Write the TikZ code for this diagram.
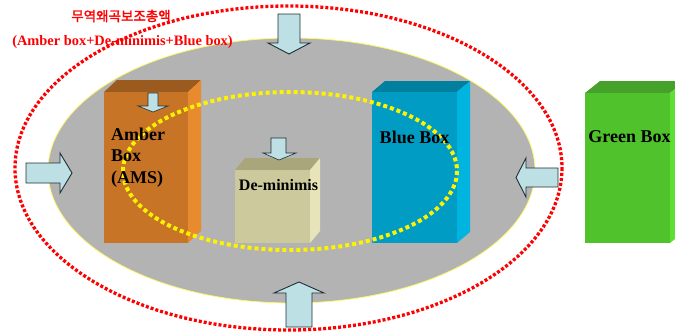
\documentclass[tikz,border=0pt]{standalone}
\usepackage{fontspec}
\setmainfont{Liberation Serif}
\newfontfamily\korfont{Noto Sans CJK KR}[AutoFakeBold=2]
\definecolor{ambF}{HTML}{C87427}
\definecolor{ambT}{HTML}{9B5A1E}
\definecolor{ambS}{HTML}{E88A2E}
\definecolor{bluF}{HTML}{009CC4}
\definecolor{bluT}{HTML}{007F9E}
\definecolor{bluS}{HTML}{00B4E0}
\definecolor{grnF}{HTML}{50C22C}
\definecolor{grnT}{HTML}{46A12A}
\definecolor{grnS}{HTML}{5DDF34}
\definecolor{demF}{HTML}{CCCA9C}
\definecolor{demT}{HTML}{A9A67B}
\definecolor{demS}{HTML}{E6E4B8}
\definecolor{arrF}{HTML}{BDE0E5}
\definecolor{arrD}{HTML}{1F2F33}
\definecolor{grayfield}{HTML}{B3B3B3}
\newcommand\mybox[9]{%
  \fill[#8] (#1,#2) -- (#1+#5,#2-#6) -- (#3+#5,#2-#6) -- (#3,#2) -- cycle;
  \fill[#9] (#3,#2) -- (#3+#5,#2-#6) -- (#3+#5,#4-#6) -- (#3,#4) -- cycle;
  \fill[#7] (#1,#2) rectangle (#3,#4);
}
\tikzset{
  fatarrow/.style={fill=arrF, draw=arrD, line width=0.9pt, line join=miter},
  boxlabel/.style={font=\fontsize{18}{21.5}\selectfont\bfseries, inner sep=0pt, text=black},
  redlabel/.style={text=red, inner sep=0pt},
}
\begin{document}
\begin{tikzpicture}[x=1pt, y=-1pt]
\useasboundingbox (0,0) rectangle (675,333);
% outer red dotted ellipse
\draw[red, line width=3.3pt, dash pattern=on 3pt off 2pt] (288.5,168) ellipse [x radius=273.5, y radius=162];
% gray field
\fill[grayfield] (291.5,170.5) ellipse [x radius=243.5, y radius=132.5];
\draw[yellow!60!white, line width=0.8pt] (291.5,170.5) ellipse [x radius=243.5, y radius=132.5];
% boxes
\mybox{104}{92}{188}{243}{13}{12}{ambF}{ambT}{ambS}
\mybox{372}{92}{457}{243}{13}{11}{bluF}{bluT}{bluS}
\mybox{585}{93}{670}{243}{15}{12}{grnF}{grnT}{grnS}
\mybox{235}{170}{310}{243}{10}{12}{demF}{demT}{demS}
% inner yellow dotted ellipse
\draw[yellow, line width=4pt, dash pattern=on 4pt off 3pt] (290,171) ellipse [x radius=167, y radius=79];
% big arrows
\draw[fatarrow] (278,14) -- (300,14) -- (300,43) -- (310,43) -- (289,54) -- (268,43) -- (278,43) -- cycle;
\draw[fatarrow] (286,327) -- (312,327) -- (312,293) -- (324,293) -- (299,282) -- (274,293) -- (286,293) -- cycle;
\draw[fatarrow] (26,163) -- (60,163) -- (60,153) -- (72,173) -- (60,193) -- (60,183) -- (26,183) -- cycle;
\draw[fatarrow] (558,168) -- (526,168) -- (526,158) -- (516,177.5) -- (526,197) -- (526,187) -- (558,187) -- cycle;
% small arrows
\draw[fatarrow, line width=0.6pt] (148,93) -- (158,93) -- (158,106) -- (168,106) -- (153,112) -- (138,106) -- (148,106) -- cycle;
\draw[fatarrow, line width=0.6pt] (271,138) -- (286,138) -- (286,153) -- (296,153) -- (279,160) -- (263,153) -- (271,153) -- cycle;
% labels
\node[boxlabel, anchor=west, align=left] (amb) at (111,157.5) {Amber\\Box\\(AMS)};
\node[boxlabel] (blu) at (414.5,137) {Blue Box};
\node[boxlabel] (grn) at (629.5,137) {Green Box};
\node[boxlabel, font=\fontsize{16}{19}\selectfont\bfseries] (dem) at (278.5,185) {De-minimis};
\node[redlabel, font=\korfont\bfseries\fontsize{13.5}{16}\selectfont] (kor) at (121,16) {무역왜곡보조총액};
\node[redlabel, font=\fontsize{14.4}{17}\selectfont\bfseries] (eng) at (122.5,42) {(Amber box+De-minimis+Blue box)};
\end{tikzpicture}
\end{document}
